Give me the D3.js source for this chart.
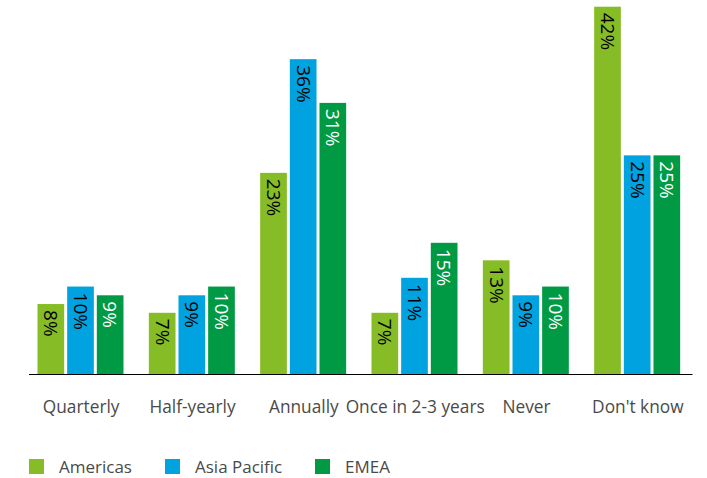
<!DOCTYPE html>
<html><head><meta charset="utf-8">
<script src="https://cdn.jsdelivr.net/npm/d3@7/dist/d3.min.js"></script>
<style>body{margin:0;background:#fff}svg{display:block}</style>
</head><body><svg id="c" width="707" height="478"></svg>
<script>
const categories = ["Quarterly","Half-yearly","Annually","Once in 2-3 years","Never","Don't know"];
const seriesNames = ["Americas","Asia Pacific","EMEA"];
const americas = [8,7,23,7,13,42];
const asiaPacific = [10,9,36,11,9,25];
const emea = [9,10,31,15,10,25];
const colors = ["#86bc25","#00a3e0","#009a44"];
const labelColors = ["#000","#000","#fff"];

const series = [americas, asiaPacific, emea];
const svg = d3.select("#c");
const font = "'Open Sans', sans-serif";
const x0 = d3.scaleBand().domain(categories).range([24.5, 692.5]).paddingInner(0).paddingOuter(0);
const x1 = d3.scaleBand().domain(seriesNames).range([13, 99]).paddingInner(0.1).paddingOuter(0);
const y = d3.scaleLinear().domain([0, 42]).range([374, 6.7]);

const g = svg.append("g");
categories.forEach((c, i) => {
  seriesNames.forEach((s, j) => {
    const v = series[j][i];
    const bx = x0(c) + x1(s);
    g.append("rect").attr("x", bx).attr("y", y(v)).attr("width", x1.bandwidth()).attr("height", y(0) - y(v)).attr("fill", colors[j]);
    const cx = bx + x1.bandwidth() / 2;
    g.append("text").attr("transform", `translate(${cx},${y(v) + 6}) rotate(90)`)
      .attr("dy", "0.35em").attr("text-anchor", "start")
      .attr("font-family", font).attr("font-size", 19).attr("fill", labelColors[j]).text(v + "%");
  });
});

svg.append("line").attr("x1", 29).attr("x2", 692.5).attr("y1", 374.5).attr("y2", 374.5).attr("stroke", "#000").attr("stroke-width", 1.2);

categories.forEach(c => {
  svg.append("text").attr("x", x0(c) + x0.bandwidth() / 2 + 1).attr("y", 413).attr("text-anchor", "middle")
    .attr("font-family", font).attr("font-size", 17.3).attr("fill", "#4a4a4a").text(c);
});

const legX = [29, 165, 315];
seriesNames.forEach((s, j) => {
  svg.append("rect").attr("x", legX[j]).attr("y", 459).attr("width", 15).attr("height", 15).attr("fill", colors[j]);
  svg.append("text").attr("x", legX[j] + 30).attr("y", 472.5).attr("font-family", font).attr("font-size", 17).attr("fill", "#4a4a4a").text(s);
});
</script></body></html>
